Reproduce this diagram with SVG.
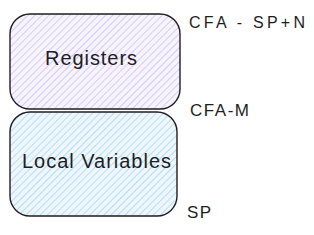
<svg xmlns="http://www.w3.org/2000/svg" width="314" height="235" viewBox="0 0 314 235">
<defs>
<pattern id="hp" patternUnits="userSpaceOnUse" width="5" height="5" patternTransform="rotate(45)">
<rect width="5" height="5" fill="#f7f3ff"/>
<line x1="0" y1="0" x2="0" y2="5" stroke="#cfc0f5" stroke-width="1.6"/>
</pattern>
<pattern id="hb" patternUnits="userSpaceOnUse" width="5" height="5" patternTransform="rotate(45)">
<rect width="5" height="5" fill="#eef7ff"/>
<line x1="0" y1="0" x2="0" y2="5" stroke="#a9d6f7" stroke-width="1.6"/>
</pattern>
</defs>
<style>
.box{stroke:#1e1e1e;stroke-width:1.4}
.t{font-family:"Liberation Sans",sans-serif;fill:#1e1e1e}
.lbl{font-family:"Liberation Sans",sans-serif;fill:#1e1e1e}
</style>
<g id="registers">
<rect class="box" x="10" y="14" width="170" height="95" rx="20" fill="url(#hp)"/>
<text class="t" x="45" y="65" font-size="20" textLength="92" lengthAdjust="spacing">Registers</text>
</g>
<g id="locals">
<rect class="box" x="10" y="112" width="167" height="104" rx="20" fill="url(#hb)"/>
<text class="t" x="22" y="168" font-size="20" textLength="149" lengthAdjust="spacing">Local Variables</text>
</g>
<g id="labels">
<text class="lbl" x="189" y="28" font-size="16" textLength="116" lengthAdjust="spacing">CFA - SP+N</text>
<text class="lbl" x="190" y="116" font-size="17" textLength="59" lengthAdjust="spacing">CFA-M</text>
<text class="lbl" x="187" y="218" font-size="17" textLength="24" lengthAdjust="spacing">SP</text>
</g>
<g id="connectors"></g>
</svg>
